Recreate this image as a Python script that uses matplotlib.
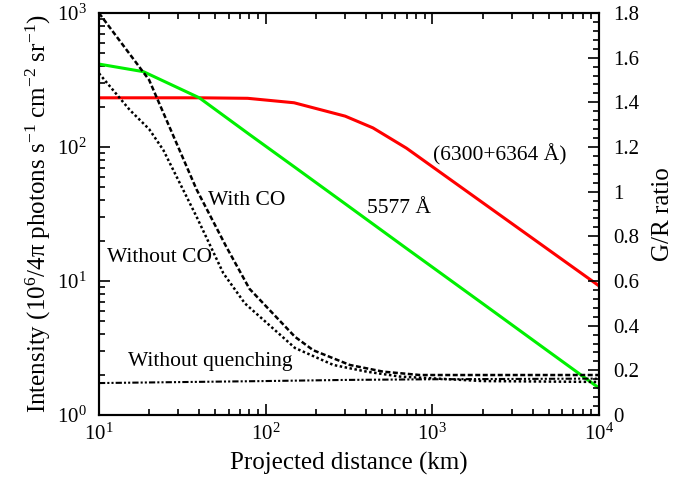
import numpy as np
import matplotlib
matplotlib.use("Agg")
import matplotlib.pyplot as plt
from matplotlib.ticker import LogLocator, MultipleLocator, FormatStrFormatter, NullFormatter

plt.rcParams['font.family'] = ['Liberation Serif', 'DejaVu Serif']
plt.rcParams['mathtext.fontset'] = 'custom'
plt.rcParams['mathtext.rm'] = 'Liberation Serif'
plt.rcParams['mathtext.it'] = 'Liberation Serif:italic'
plt.rcParams['mathtext.default'] = 'regular'

# intensity curves (left axis)
red_x = [10, 20, 40, 78, 148, 300, 440, 700, 10000]
red_y = [233, 233, 233, 231, 214, 170, 139, 98, 9.2]

green_x = [10, 18.5, 40, 80, 150, 300, 700, 1000, 2000, 5000, 10000]
green_y = [416, 365, 233, 124, 70.5, 37.7, 17.5, 12.7, 6.8, 2.97, 1.59]

# G/R ratio curves (right axis)
withco_x = [10, 20, 38.5, 58, 80, 150, 193, 320, 508, 843, 10000]
withco_y = [1.80, 1.50, 1.01, 0.754, 0.565, 0.35, 0.29, 0.224, 0.194, 0.179, 0.179]

noco_x = [10, 15.3, 20, 24.3, 38.5, 55.7, 75, 150, 255, 404, 640, 2000, 10000]
noco_y = [1.53, 1.366, 1.28, 1.187, 0.888, 0.635, 0.50, 0.30, 0.224, 0.194, 0.172, 0.152, 0.148]

noq_x = [10, 100, 300, 1000, 10000]
noq_y = [0.143, 0.152, 0.157, 0.16, 0.163]

fig = plt.figure(figsize=(6.97, 4.83), dpi=100)
ax = fig.add_axes([0.142, 0.1408, 0.7174, 0.8322])
ax2 = ax.twinx()

ax.plot(red_x, red_y, color='#ff0000', lw=2.2)
ax.plot(green_x, green_y, color='#00f000', lw=2.2)
ax.set_xscale('log')
ax.set_yscale('log')
ax.set_xlim(10, 1e4)
ax.set_ylim(1, 1e3)

ax2.plot(withco_x, withco_y, color='k', lw=1.8, dashes=(2, 1))
ax2.plot(noco_x, noco_y, color='k', lw=1.8, dashes=(1, 1))
ax2.plot(noq_x, noq_y, color='k', lw=1.5, dashes=(3, 1, 1, 1, 1, 1))
ax2.set_ylim(0, 1.8)
ax2.yaxis.set_major_locator(MultipleLocator(0.2))
ax2.yaxis.set_minor_locator(MultipleLocator(0.04))
ax2.yaxis.set_major_formatter(FormatStrFormatter('%g'))

ax.xaxis.set_minor_locator(LogLocator(base=10, subs=np.arange(2, 10)))
ax.yaxis.set_minor_locator(LogLocator(base=10, subs=np.arange(2, 10)))
ax.xaxis.set_minor_formatter(NullFormatter())
ax.yaxis.set_minor_formatter(NullFormatter())

ax.tick_params(which='both', direction='in', top=True, right=False, width=1.2)
ax.tick_params(which='major', length=8, labelsize=15)
ax.tick_params(which='minor', length=4.5)
ax.tick_params(axis='y', pad=9)
ax.tick_params(axis='x', pad=6)
ax2.tick_params(which='both', direction='in', width=1.2)
ax2.tick_params(which='major', length=8, labelsize=15, pad=10)
ax2.tick_params(which='minor', length=4.5)

for a in (ax, ax2):
    for s in a.spines.values():
        s.set_linewidth(1.5)

ax.set_xlabel('Projected distance (km)', fontsize=18, labelpad=5)
ax.set_ylabel('Intensity (10$^{6}$/4π photons s$^{-1}$ cm$^{-2}$ sr$^{-1}$)', fontsize=18, labelpad=3)
ax2.set_ylabel('G/R ratio', fontsize=18, labelpad=9)

ax.text(45, 40.2, 'With CO', fontsize=15.5, va='center')
ax.text(11.2, 14.9, 'Without CO', fontsize=15.5, va='center')
ax.text(14.9, 2.49, 'Without quenching', fontsize=15.5, va='center')
ax.text(405, 35, '5577 Å', fontsize=15.5, va='center')
ax.text(1009, 87, '(6300+6364 Å)', fontsize=15.5, va='center')

plt.savefig('out.png', dpi=100)
